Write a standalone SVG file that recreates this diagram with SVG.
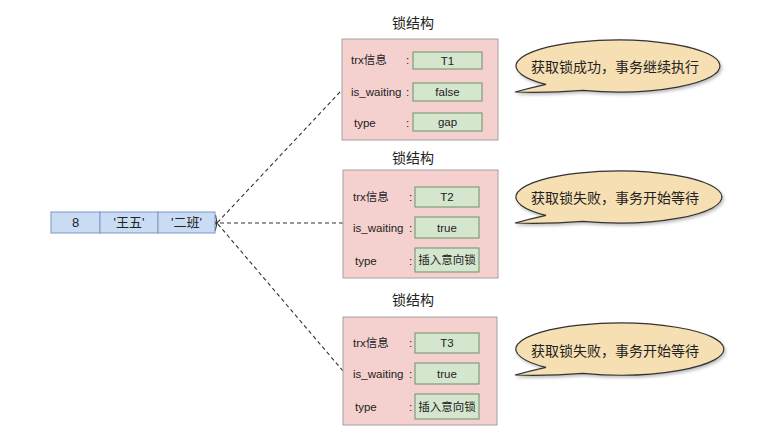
<svg xmlns="http://www.w3.org/2000/svg" width="771" height="443" viewBox="0 0 771 443">
<defs>
<style>
text{font-family:"Liberation Sans","Noto Sans CJK SC",sans-serif;fill:#222}
.box{fill:#f4d1cf;stroke:#a6a0a0;stroke-width:1}
.val{fill:#d5e6cf;stroke:#6f8f66;stroke-width:1}
.cell{fill:#c9dcf4;stroke:#7b98c4;stroke-width:1}
.bub{fill:#f6dfb2;stroke:#333;stroke-width:1.2;filter:url(#sh)}
.title{font-size:14px;text-anchor:middle}
.lbl{font-size:11.5px}
.v{font-size:11.5px;text-anchor:middle}
.c{font-size:13px;text-anchor:middle}
.bt{font-size:14px;text-anchor:middle}
.conn{fill:none;stroke:#333;stroke-width:1.1;stroke-dasharray:4,3}
</style>
<filter id="sh" x="-10%" y="-20%" width="125%" height="160%"><feDropShadow dx="1.5" dy="2" stdDeviation="1.5" flood-color="#000" flood-opacity="0.25"/></filter>
<marker id="arr" markerWidth="10" markerHeight="10" refX="1" refY="5" orient="auto" markerUnits="userSpaceOnUse"><path d="M8,1 L1,5 L8,9" fill="none" stroke="#333" stroke-width="1.1"/></marker>
</defs>
<rect width="771" height="443" fill="#fff"/>
<g id="connectors">
<path class="conn" d="M340,92 L217,223" marker-end="url(#arr)"/>
<path class="conn" d="M343,223 L217,223" marker-end="url(#arr)"/>
<path class="conn" d="M343,371 L217,223" marker-end="url(#arr)"/>
</g>
<g id="row">
<rect class="cell" x="51" y="212" width="49" height="21"/>
<rect class="cell" x="100" y="212" width="58" height="21"/>
<rect class="cell" x="158" y="212" width="57" height="21"/>
<text class="c" x="75.5" y="227">8</text>
<text class="c" x="129" y="227">'王五'</text>
<text class="c" x="186.5" y="227">'二班'</text>
</g>
<g id="lock1">
<text class="title" x="413" y="28">锁结构</text>
<rect class="box" x="342" y="39" width="156" height="101"/>
<text class="lbl" x="351" y="64">trx信息</text><text class="lbl" x="406" y="64">:</text>
<rect class="val" x="413" y="52" width="69" height="17"/><text class="v" x="447.5" y="65">T1</text>
<text class="lbl" x="351" y="96">is_waiting</text><text class="lbl" x="406" y="96">:</text>
<rect class="val" x="413" y="83" width="69" height="18"/><text class="v" x="447.5" y="96">false</text>
<text class="lbl" x="354" y="127">type</text><text class="lbl" x="406" y="127">:</text>
<rect class="val" x="413" y="113" width="69" height="18"/><text class="v" x="447.5" y="126">gap</text>
</g>
<g id="lock2">
<text class="title" x="413" y="163">锁结构</text>
<rect class="box" x="343" y="170" width="155" height="108"/>
<text class="lbl" x="353" y="201">trx信息</text><text class="lbl" x="409" y="201">:</text>
<rect class="val" x="415" y="187" width="64" height="20"/><text class="v" x="447" y="201">T2</text>
<text class="lbl" x="353" y="232">is_waiting</text><text class="lbl" x="409" y="232">:</text>
<rect class="val" x="415" y="217" width="64" height="21"/><text class="v" x="447" y="232">true</text>
<text class="lbl" x="355" y="265">type</text><text class="lbl" x="409" y="265">:</text>
<rect class="val" x="415" y="248" width="64" height="24"/><text class="v" x="447" y="264">插入意向锁</text>
</g>
<g id="lock3">
<text class="title" x="413" y="305">锁结构</text>
<rect class="box" x="343" y="317" width="154" height="108"/>
<text class="lbl" x="353" y="347">trx信息</text><text class="lbl" x="409" y="347">:</text>
<rect class="val" x="415" y="333" width="64" height="20"/><text class="v" x="447" y="347">T3</text>
<text class="lbl" x="353" y="378">is_waiting</text><text class="lbl" x="409" y="378">:</text>
<rect class="val" x="415" y="363" width="64" height="21"/><text class="v" x="447" y="378">true</text>
<text class="lbl" x="355" y="411">type</text><text class="lbl" x="409" y="411">:</text>
<rect class="val" x="415" y="394" width="64" height="25"/><text class="v" x="447" y="411">插入意向锁</text>
</g>
<g id="bubble1">
<path class="bub" d="M583,90.4 Q548,93 515,92 Q530,88 546,84.4 A102,26 0 1 1 583,90.4 Z"/>
<text class="bt" x="615" y="72">获取锁成功，事务继续执行</text>
</g>
<g id="bubble2">
<path class="bub" d="M583,221.4 Q548,224 515,223 Q530,219 546,215.4 A103,26 0 1 1 583,221.4 Z"/>
<text class="bt" x="615" y="203">获取锁失败，事务开始等待</text>
</g>
<g id="bubble3">
<path class="bub" d="M583,373.4 Q548,376 515,375 Q530,371 546,367.4 A104,26 0 1 1 583,373.4 Z"/>
<text class="bt" x="615" y="356">获取锁失败，事务开始等待</text>
</g>
</svg>
